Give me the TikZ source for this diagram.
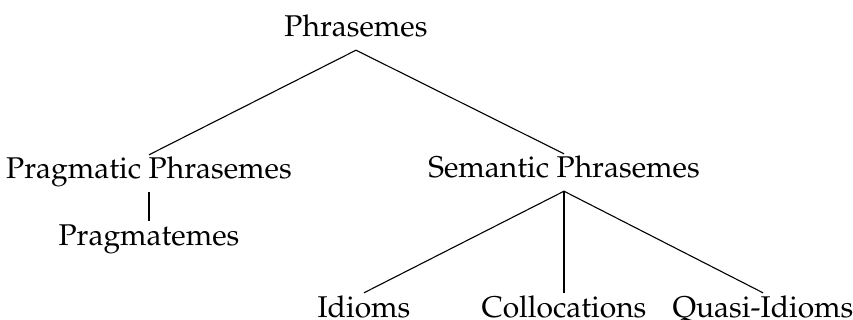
\documentclass[tikz,border=0pt]{standalone}
\usepackage[T1]{fontenc}
\usepackage{mathpazo}
\begin{document}
\begin{tikzpicture}[x=1pt, y=-1pt,
  term/.style={anchor=base, font=\fontsize{30}{36}\selectfont,
    text height=20pt, text depth=9pt, inner xsep=0pt, inner ysep=4pt},
  branch/.style={line width=1.1pt}]
  \useasboundingbox (0,0) rectangle (853,320);
  % nodes, placed on their baselines
  \node[term] (root) at (356,37) {Phrasemes};
  \node[term] (prag) at (149,179) {Pragmatic Phrasemes};
  \node[term] (sem)  at (564,178) {Semantic Phrasemes};
  \node[term] (pmat) at (149,245) {Pragmatemes};
  \node[term] (idi)  at (364,317) {Idioms};
  \node[term] (col)  at (564,317) {Collocations};
  \node[term] (qid)  at (763,317) {Quasi-Idioms};
  % branches
  \draw[branch] (root.south) -- (prag.north);
  \draw[branch] (root.south) -- (sem.north);
  \draw[branch] (prag.south) -- (pmat.north);
  \draw[branch] (sem.south) -- (idi.north);
  \draw[branch] (sem.south) -- (col.north);
  \draw[branch] (sem.south) -- (qid.north);
\end{tikzpicture}
\end{document}
